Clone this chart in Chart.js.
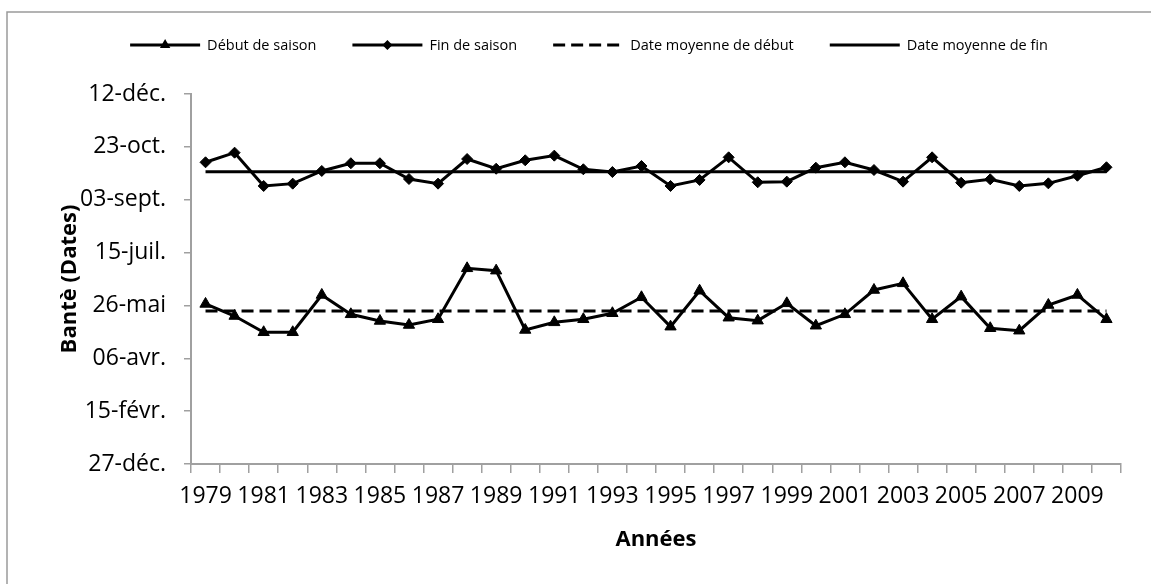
<!DOCTYPE html>
<html lang="fr">
<head>
<meta charset="utf-8">
<script src="https://cdn.jsdelivr.net/npm/chart.js@4.4.1/dist/chart.umd.min.js"></script>
<style>
  html, body { margin: 0; padding: 0; background: #fff; }
  #wrap { width: 1151px; height: 584px; position: relative; }
</style>
</head>
<body>
<div id="wrap"><canvas id="seasonChart"></canvas></div>
<script>
// ── Data ─────────────────────────────────────────────────────────────────────
// values are days counted from 27-déc. of the previous year
const years = [
    '1979', '1980', '1981', '1982', '1983', '1984', '1985', '1986',
    '1987', '1988', '1989', '1990', '1991', '1992', '1993', '1994',
    '1995', '1996', '1997', '1998', '1999', '2000', '2001', '2002',
    '2003', '2004', '2005', '2006', '2007', '2008', '2009', '2010'
];

const debutSaison = [
    151.4, 140.0, 124.6, 124.6, 159.9, 141.6, 135.3, 131.5,
    136.9, 185.1, 182.9, 126.8, 134.0, 136.9, 142.6, 157.7,
    129.9, 163.9, 138.4, 135.6, 152.0, 130.8, 141.6, 164.6,
    170.9, 136.9, 158.3, 128.4, 126.1, 150.4, 159.9, 136.9
];

const finSaison = [
    285.4, 294.5, 263.0, 265.2, 277.2, 284.5, 284.5, 269.6,
    265.2, 288.5, 279.3, 287.3, 291.7, 278.8, 276.2, 281.9,
    263.0, 268.7, 290.1, 266.5, 267.1, 280.3, 285.4, 278.1,
    267.1, 290.1, 266.1, 269.3, 263.0, 265.5, 272.7, 280.7
];

const moyenneDebut = 144.7;
const moyenneFin = 276.5;

const yTickValues = [0, 50, 100, 150, 200, 250, 300, 350];
const yTickLabels = ['27-déc.', '15-févr.', '06-avr.', '26-mai', '15-juil.', '03-sept.', '23-oct.', '12-déc.'];

// ── Styling ──────────────────────────────────────────────────────────────────
const FONT = '"Open Sans", "DejaVu Sans", sans-serif';
const AXIS_GREY = '#a0a0a0';
const LEGEND_CENTER_X = 589;
const LEGEND_Y = 45;

function drawMarker(ctx, style, x, y, r) {
    ctx.beginPath();
    if (style === 'triangle') {
        ctx.moveTo(x, y - r);
        ctx.lineTo(x + r * 0.866, y + r * 0.5);
        ctx.lineTo(x - r * 0.866, y + r * 0.5);
    } else if (style === 'rectRot') {
        ctx.moveTo(x - r, y);
        ctx.lineTo(x, y - r);
        ctx.lineTo(x + r, y);
        ctx.lineTo(x, y + r);
    }
    ctx.closePath();
    ctx.fill();
}

// white page + the grey frame that is cut off at right and bottom
const framePlugin = {
    id: 'frame',
    beforeDraw(chart) {
        const ctx = chart.ctx;
        ctx.save();
        ctx.fillStyle = '#fff';
        ctx.fillRect(0, 0, chart.width, chart.height);
        ctx.strokeStyle = '#9a9a9a';
        ctx.lineWidth = 1.5;
        ctx.beginPath();
        ctx.moveTo(7, chart.height + 5);
        ctx.lineTo(7, 12);
        ctx.lineTo(chart.width + 5, 12);
        ctx.stroke();
        ctx.restore();
    }
};

// legend drawn as line + marker, like the spreadsheet one
const lineLegend = {
    id: 'lineLegend',
    afterDraw(chart) {
        const ctx = chart.ctx;
        const sets = chart.data.datasets;
        const lineLen = 70, textGap = 7, itemGap = 36;
        ctx.save();
        ctx.font = '14.5px ' + FONT;
        const widths = sets.map(ds => lineLen + textGap + ctx.measureText(ds.label).width);
        const total = widths.reduce((a, b) => a + b, 0) + itemGap * (sets.length - 1);
        let x = LEGEND_CENTER_X - total / 2;
        sets.forEach((ds, i) => {
            ctx.strokeStyle = '#000';
            ctx.fillStyle = '#000';
            ctx.lineWidth = 3;
            ctx.setLineDash(ds.borderDash || []);
            ctx.beginPath();
            ctx.moveTo(x, LEGEND_Y);
            ctx.lineTo(x + lineLen, LEGEND_Y);
            ctx.stroke();
            ctx.setLineDash([]);
            if (ds.pointRadius > 0) {
                drawMarker(ctx, ds.pointStyle, x + lineLen / 2, LEGEND_Y, ds.pointStyle === 'triangle' ? 6 : 5);
            }
            ctx.textAlign = 'left';
            ctx.textBaseline = 'middle';
            ctx.fillText(ds.label, x + lineLen + textGap, LEGEND_Y + 1);
            x += widths[i] + itemGap;
        });
        ctx.restore();
    }
};

// ── Chart ────────────────────────────────────────────────────────────────────
const ctx = document.getElementById('seasonChart').getContext('2d');
const chart = new Chart(ctx, {
    type: 'line',
    data: {
        labels: years,
        datasets: [
            {
                label: 'Début de saison',
                data: debutSaison,
                borderColor: '#000',
                backgroundColor: '#000',
                borderWidth: 3,
                pointStyle: 'triangle',
                pointRadius: 6.5,
                pointBorderWidth: 1,
                pointBackgroundColor: '#000',
                tension: 0,
            },
            {
                label: 'Fin de saison',
                data: finSaison,
                borderColor: '#000',
                backgroundColor: '#000',
                borderWidth: 3,
                pointStyle: 'rectRot',
                pointRadius: 5.5,
                pointBorderWidth: 1,
                pointBackgroundColor: '#000',
                tension: 0,
            },
            {
                label: 'Date moyenne de début',
                data: years.map(() => moyenneDebut),
                borderColor: '#000',
                borderWidth: 3,
                borderDash: [12, 6],
                pointRadius: 0,
                tension: 0,
            },
            {
                label: 'Date moyenne de fin',
                data: years.map(() => moyenneFin),
                borderColor: '#000',
                borderWidth: 3,
                pointRadius: 0,
                tension: 0,
            }
        ]
    },
    options: {
        responsive: true,
        maintainAspectRatio: false,
        animation: false,
        layout: { padding: { top: 94, left: 57, right: 30, bottom: 31 } },
        plugins: {
            legend: { display: false },
            tooltip: { enabled: false }
        },
        scales: {
            x: {
                type: 'category',
                offset: true,
                grid: {
                    offset: true,
                    drawOnChartArea: false,
                    color: AXIS_GREY,
                    lineWidth: 1.5,
                    tickLength: 9
                },
                border: { color: AXIS_GREY, width: 2 },
                ticks: {
                    autoSkip: false,
                    maxRotation: 0,
                    minRotation: 0,
                    padding: 10,
                    color: '#000',
                    font: { family: FONT, size: 23 },
                    callback: function (val, idx) {
                        return idx % 2 === 0 ? this.getLabelForValue(val) : '';
                    }
                },
                title: {
                    display: true,
                    text: 'Années',
                    color: '#000',
                    padding: 0,
                    font: { family: FONT, size: 22, weight: 'bold' }
                },
                afterFit(scale) { scale.height = 89; }
            },
            y: {
                min: yTickValues[0],
                max: yTickValues[yTickValues.length - 1],
                grid: {
                    drawOnChartArea: false,
                    color: AXIS_GREY,
                    lineWidth: 1.5,
                    tickLength: 7
                },
                border: { color: AXIS_GREY, width: 2 },
                ticks: {
                    stepSize: 50,
                    padding: 18,
                    color: '#000',
                    font: { family: FONT, size: 23 },
                    callback: (value) => yTickLabels[yTickValues.indexOf(value)]
                },
                title: {
                    display: true,
                    text: 'Bantè (Dates)',
                    color: '#000',
                    padding: 0,
                    font: { family: FONT, size: 22, weight: 'bold' }
                },
                afterFit(scale) { scale.width = 134; }
            }
        }
    },
    plugins: [framePlugin, lineLegend]
});
</script>
</body>
</html>
